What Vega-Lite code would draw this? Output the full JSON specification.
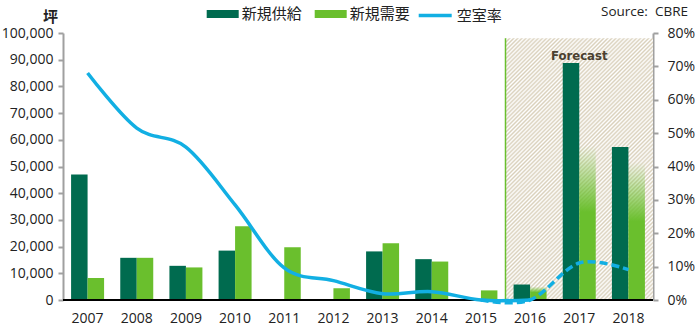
{
"$schema":"https://vega.github.io/schema/vega-lite/v6.json",
"width":590,"height":267,
"autosize":{"type":"none"},
"padding":{"left":63,"top":33,"right":47,"bottom":33},
"background":"white",
"config":{"view":{"stroke":null},"font":"Open Sans","axis":{"grid":false,"labelOverlap":false}},
"data":{"values":[
{"year":"2007","新規供給":47000,"新規需要":8200,"空室率":0.68},
{"year":"2008","新規供給":15800,"新規需要":15800,"空室率":0.515},
{"year":"2009","新規供給":12800,"新規需要":12200,"空室率":0.458},
{"year":"2010","新規供給":18500,"新規需要":27600,"空室率":0.285},
{"year":"2011","新規供給":0,"新規需要":19800,"空室率":0.096},
{"year":"2012","新規供給":0,"新規需要":4400,"空室率":0.058},
{"year":"2013","新規供給":18200,"新規需要":21300,"空室率":0.019},
{"year":"2014","新規供給":15300,"新規需要":14400,"空室率":0.025},
{"year":"2015","新規供給":0,"新規需要":3600,"空室率":0.0},
{"year":"2016","新規供給":5800,"新規需要":5000,"空室率":0.0},
{"year":"2017","新規供給":88800,"新規需要":57800,"空室率":0.111},
{"year":"2018","新規供給":57300,"新規需要":51700,"空室率":0.091}
]},
"layer":[
{"layer":[
{"data":{"values":[{}]},
 "mark":{"type":"rect","fill":{"gradient":"linear","x1":0,"y1":0,"x2":0.669,"y2":1.186,"stops":[
{"offset":0,"color":"#d9d0bb"},{"offset":0.005,"color":"#fff"},{"offset":0.01,"color":"#d9d0bb"},{"offset":0.015,"color":"#fff"},{"offset":0.02,"color":"#d9d0bb"},{"offset":0.025,"color":"#fff"},{"offset":0.03,"color":"#d9d0bb"},{"offset":0.035,"color":"#fff"},{"offset":0.04,"color":"#d9d0bb"},{"offset":0.045,"color":"#fff"},{"offset":0.05,"color":"#d9d0bb"},{"offset":0.055,"color":"#fff"},{"offset":0.06,"color":"#d9d0bb"},{"offset":0.065,"color":"#fff"},{"offset":0.07,"color":"#d9d0bb"},{"offset":0.075,"color":"#fff"},{"offset":0.08,"color":"#d9d0bb"},{"offset":0.085,"color":"#fff"},{"offset":0.09,"color":"#d9d0bb"},{"offset":0.095,"color":"#fff"},
{"offset":0.1,"color":"#d9d0bb"},{"offset":0.105,"color":"#fff"},{"offset":0.11,"color":"#d9d0bb"},{"offset":0.115,"color":"#fff"},{"offset":0.12,"color":"#d9d0bb"},{"offset":0.125,"color":"#fff"},{"offset":0.13,"color":"#d9d0bb"},{"offset":0.135,"color":"#fff"},{"offset":0.14,"color":"#d9d0bb"},{"offset":0.145,"color":"#fff"},{"offset":0.15,"color":"#d9d0bb"},{"offset":0.155,"color":"#fff"},{"offset":0.16,"color":"#d9d0bb"},{"offset":0.165,"color":"#fff"},{"offset":0.17,"color":"#d9d0bb"},{"offset":0.175,"color":"#fff"},{"offset":0.18,"color":"#d9d0bb"},{"offset":0.185,"color":"#fff"},{"offset":0.19,"color":"#d9d0bb"},{"offset":0.195,"color":"#fff"},
{"offset":0.2,"color":"#d9d0bb"},{"offset":0.205,"color":"#fff"},{"offset":0.21,"color":"#d9d0bb"},{"offset":0.215,"color":"#fff"},{"offset":0.22,"color":"#d9d0bb"},{"offset":0.225,"color":"#fff"},{"offset":0.23,"color":"#d9d0bb"},{"offset":0.235,"color":"#fff"},{"offset":0.24,"color":"#d9d0bb"},{"offset":0.245,"color":"#fff"},{"offset":0.25,"color":"#d9d0bb"},{"offset":0.255,"color":"#fff"},{"offset":0.26,"color":"#d9d0bb"},{"offset":0.265,"color":"#fff"},{"offset":0.27,"color":"#d9d0bb"},{"offset":0.275,"color":"#fff"},{"offset":0.28,"color":"#d9d0bb"},{"offset":0.285,"color":"#fff"},{"offset":0.29,"color":"#d9d0bb"},{"offset":0.295,"color":"#fff"},
{"offset":0.3,"color":"#d9d0bb"},{"offset":0.305,"color":"#fff"},{"offset":0.31,"color":"#d9d0bb"},{"offset":0.315,"color":"#fff"},{"offset":0.32,"color":"#d9d0bb"},{"offset":0.325,"color":"#fff"},{"offset":0.33,"color":"#d9d0bb"},{"offset":0.335,"color":"#fff"},{"offset":0.34,"color":"#d9d0bb"},{"offset":0.345,"color":"#fff"},{"offset":0.35,"color":"#d9d0bb"},{"offset":0.355,"color":"#fff"},{"offset":0.36,"color":"#d9d0bb"},{"offset":0.365,"color":"#fff"},{"offset":0.37,"color":"#d9d0bb"},{"offset":0.375,"color":"#fff"},{"offset":0.38,"color":"#d9d0bb"},{"offset":0.385,"color":"#fff"},{"offset":0.39,"color":"#d9d0bb"},{"offset":0.395,"color":"#fff"},
{"offset":0.4,"color":"#d9d0bb"},{"offset":0.405,"color":"#fff"},{"offset":0.41,"color":"#d9d0bb"},{"offset":0.415,"color":"#fff"},{"offset":0.42,"color":"#d9d0bb"},{"offset":0.425,"color":"#fff"},{"offset":0.43,"color":"#d9d0bb"},{"offset":0.435,"color":"#fff"},{"offset":0.44,"color":"#d9d0bb"},{"offset":0.445,"color":"#fff"},{"offset":0.45,"color":"#d9d0bb"},{"offset":0.455,"color":"#fff"},{"offset":0.46,"color":"#d9d0bb"},{"offset":0.465,"color":"#fff"},{"offset":0.47,"color":"#d9d0bb"},{"offset":0.475,"color":"#fff"},{"offset":0.48,"color":"#d9d0bb"},{"offset":0.485,"color":"#fff"},{"offset":0.49,"color":"#d9d0bb"},{"offset":0.495,"color":"#fff"},
{"offset":0.5,"color":"#d9d0bb"},{"offset":0.505,"color":"#fff"},{"offset":0.51,"color":"#d9d0bb"},{"offset":0.515,"color":"#fff"},{"offset":0.52,"color":"#d9d0bb"},{"offset":0.525,"color":"#fff"},{"offset":0.53,"color":"#d9d0bb"},{"offset":0.535,"color":"#fff"},{"offset":0.54,"color":"#d9d0bb"},{"offset":0.545,"color":"#fff"},{"offset":0.55,"color":"#d9d0bb"},{"offset":0.555,"color":"#fff"},{"offset":0.56,"color":"#d9d0bb"},{"offset":0.565,"color":"#fff"},{"offset":0.57,"color":"#d9d0bb"},{"offset":0.575,"color":"#fff"},{"offset":0.58,"color":"#d9d0bb"},{"offset":0.585,"color":"#fff"},{"offset":0.59,"color":"#d9d0bb"},{"offset":0.595,"color":"#fff"},
{"offset":0.6,"color":"#d9d0bb"},{"offset":0.605,"color":"#fff"},{"offset":0.61,"color":"#d9d0bb"},{"offset":0.615,"color":"#fff"},{"offset":0.62,"color":"#d9d0bb"},{"offset":0.625,"color":"#fff"},{"offset":0.63,"color":"#d9d0bb"},{"offset":0.635,"color":"#fff"},{"offset":0.64,"color":"#d9d0bb"},{"offset":0.645,"color":"#fff"},{"offset":0.65,"color":"#d9d0bb"},{"offset":0.655,"color":"#fff"},{"offset":0.66,"color":"#d9d0bb"},{"offset":0.665,"color":"#fff"},{"offset":0.67,"color":"#d9d0bb"},{"offset":0.675,"color":"#fff"},{"offset":0.68,"color":"#d9d0bb"},{"offset":0.685,"color":"#fff"},{"offset":0.69,"color":"#d9d0bb"},{"offset":0.695,"color":"#fff"},
{"offset":0.7,"color":"#d9d0bb"},{"offset":0.705,"color":"#fff"},{"offset":0.71,"color":"#d9d0bb"},{"offset":0.715,"color":"#fff"},{"offset":0.72,"color":"#d9d0bb"},{"offset":0.725,"color":"#fff"},{"offset":0.73,"color":"#d9d0bb"},{"offset":0.735,"color":"#fff"},{"offset":0.74,"color":"#d9d0bb"},{"offset":0.745,"color":"#fff"},{"offset":0.75,"color":"#d9d0bb"},{"offset":0.755,"color":"#fff"},{"offset":0.76,"color":"#d9d0bb"},{"offset":0.765,"color":"#fff"},{"offset":0.77,"color":"#d9d0bb"},{"offset":0.775,"color":"#fff"},{"offset":0.78,"color":"#d9d0bb"},{"offset":0.785,"color":"#fff"},{"offset":0.79,"color":"#d9d0bb"},{"offset":0.795,"color":"#fff"},
{"offset":0.8,"color":"#d9d0bb"},{"offset":0.805,"color":"#fff"},{"offset":0.81,"color":"#d9d0bb"},{"offset":0.815,"color":"#fff"},{"offset":0.82,"color":"#d9d0bb"},{"offset":0.825,"color":"#fff"},{"offset":0.83,"color":"#d9d0bb"},{"offset":0.835,"color":"#fff"},{"offset":0.84,"color":"#d9d0bb"},{"offset":0.845,"color":"#fff"},{"offset":0.85,"color":"#d9d0bb"},{"offset":0.855,"color":"#fff"},{"offset":0.86,"color":"#d9d0bb"},{"offset":0.865,"color":"#fff"},{"offset":0.87,"color":"#d9d0bb"},{"offset":0.875,"color":"#fff"},{"offset":0.88,"color":"#d9d0bb"},{"offset":0.885,"color":"#fff"},{"offset":0.89,"color":"#d9d0bb"},{"offset":0.895,"color":"#fff"},
{"offset":0.9,"color":"#d9d0bb"},{"offset":0.905,"color":"#fff"},{"offset":0.91,"color":"#d9d0bb"},{"offset":0.915,"color":"#fff"},{"offset":0.92,"color":"#d9d0bb"},{"offset":0.925,"color":"#fff"},{"offset":0.93,"color":"#d9d0bb"},{"offset":0.935,"color":"#fff"},{"offset":0.94,"color":"#d9d0bb"},{"offset":0.945,"color":"#fff"},{"offset":0.95,"color":"#d9d0bb"},{"offset":0.955,"color":"#fff"},{"offset":0.96,"color":"#d9d0bb"},{"offset":0.965,"color":"#fff"},{"offset":0.97,"color":"#d9d0bb"},{"offset":0.975,"color":"#fff"},{"offset":0.98,"color":"#d9d0bb"},{"offset":0.985,"color":"#fff"},{"offset":0.99,"color":"#d9d0bb"},{"offset":0.995,"color":"#fff"},{"offset":1,"color":"#d9d0bb"}
]}},
 "encoding":{
  "x":{"datum":"2016","type":"ordinal","bandPosition":0,"scale":{"paddingInner":0,"paddingOuter":0},"axis":{"title":null,"labelAngle":0,"ticks":false,"domain":false,"labelFontSize":14,"labelPadding":11,"labelColor":"#222"}},
  "x2":{"datum":"2018","bandPosition":1},
  "y":{"datum":0,"type":"quantitative","scale":{"domain":[0,100000]},"axis":{"title":"坪","titleAngle":0,"titleAlign":"center","titleBaseline":"middle","titleX":-13,"titleY":-17,"titleFont":"Noto Sans CJK JP","titleFontSize":15,"titleFontWeight":"bold","titleColor":"#222","values":[0,10000,20000,30000,40000,50000,60000,70000,80000,90000,100000],"format":",.0f","labelOverlap":false,"domainColor":"#a0a0a0","domainWidth":2,"tickColor":"#a0a0a0","tickWidth":2,"tickSize":5,"labelFontSize":14,"labelPadding":5,"labelColor":"#222"}},
  "y2":{"datum":98000}}},
{"data":{"values":[{}]},
 "mark":{"type":"rule","color":"#6abf2d","strokeWidth":1.5},
 "encoding":{"x":{"datum":"2016","type":"ordinal","bandPosition":0},"y":{"datum":0,"type":"quantitative","axis":{"values":[0,10000,20000,30000,40000,50000,60000,70000,80000,90000,100000]}},"y2":{"datum":98000}}},
{"transform":[{"fold":["新規供給","新規需要"],"as":["series","value"]},{"filter":"datum.series === '新規供給' || datum.year < '2016'"}],
 "mark":{"type":"bar"},
 "encoding":{
  "x":{"field":"year","type":"ordinal"},
  "xOffset":{"field":"series","type":"nominal","scale":{"domain":["新規供給","新規需要"],"paddingOuter":0.49,"paddingInner":0}},
  "y":{"field":"value","type":"quantitative","axis":{"values":[0,10000,20000,30000,40000,50000,60000,70000,80000,90000,100000]}},
  "color":{"field":"series","type":"nominal","scale":{"domain":["新規供給","新規需要"],"range":["#006b4f","#6abf2d"]},"legend":{"orient":"none","legendX":143.7,"legendY":-35,"direction":"horizontal","title":null,"symbolType":"M-1,-0.25H1V0.25H-1Z","symbolSize":1024,"symbolStrokeWidth":0,"symbolOpacity":1,"labelFont":"Noto Sans CJK JP","labelFontSize":15,"labelColor":"#222","labelOffset":3,"columnPadding":12,"padding":0}}
 }},
{"transform":[{"fold":["新規需要"],"as":["series","value"]},{"filter":"datum.year >= '2016'"}],
 "mark":{"type":"bar","fill":{"gradient":"linear","x1":0,"y1":1,"x2":0,"y2":0,"stops":[{"offset":0,"color":"#6abf2d"},{"offset":0.57,"color":"#6abf2d"},{"offset":1,"color":"rgba(106,191,45,0)"}]}},
 "encoding":{
  "x":{"field":"year","type":"ordinal"},
  "xOffset":{"field":"series","type":"nominal"},
  "y":{"field":"value","type":"quantitative","axis":{"values":[0,10000,20000,30000,40000,50000,60000,70000,80000,90000,100000]}}
 }},
{"data":{"values":[{}]},
 "mark":{"type":"rule","color":"#000","strokeWidth":2},
 "encoding":{"y":{"datum":0,"type":"quantitative","axis":{"values":[0,10000,20000,30000,40000,50000,60000,70000,80000,90000,100000]}}}},
{"data":{"values":[{}]},
 "mark":{"type":"text","text":"Forecast","font":"DejaVu Sans Condensed","fontWeight":"bold","fontSize":13,"color":"#4a4030","baseline":"alphabetic","align":"center","dy":-2},
 "encoding":{"x":{"datum":"2017","type":"ordinal"},"y":{"datum":89000,"type":"quantitative","axis":{"values":[0,10000,20000,30000,40000,50000,60000,70000,80000,90000,100000]}}}},
{"data":{"values":[{}]},
 "mark":{"type":"text","text":"Source:\u00a0 CBRE","font":"Open Sans","fontSize":13.5,"color":"#222","baseline":"middle","align":"right","dx":35},
 "encoding":{"x":{"datum":"2018","type":"ordinal","bandPosition":1},"y":{"datum":107900,"type":"quantitative","axis":{"values":[0,10000,20000,30000,40000,50000,60000,70000,80000,90000,100000]}}}}
]},
{"layer":[
{"transform":[{"filter":"datum.year <= '2016'"}],
 "mark":{"type":"line","interpolate":"cardinal","strokeWidth":3.5,"strokeCap":"butt"},
 "encoding":{
  "x":{"field":"year","type":"ordinal"},
  "y":{"field":"空室率","type":"quantitative","scale":{"domain":[0,0.8]},"axis":{"orient":"right","title":null,"values":[0,0.1,0.2,0.3,0.4,0.5,0.6,0.7,0.8],"format":".0%","labelOverlap":false,"domainColor":"#a0a0a0","domainWidth":2,"tickColor":"#a0a0a0","tickWidth":2,"tickSize":5,"labelFontSize":14,"labelPadding":9,"labelColor":"#222"}},
  "stroke":{"datum":"空室率","type":"nominal","scale":{"range":["#12afe3"]},"legend":{"orient":"none","legendX":353.7,"legendY":-36,"title":null,"symbolType":"stroke","symbolSize":1089,"symbolStrokeWidth":3.5,"labelFont":"Noto Sans CJK JP","labelFontSize":15,"labelColor":"#222","labelOffset":3,"padding":0}}
 }},
{"transform":[{"filter":"datum.year >= '2015'"}],
 "mark":{"type":"line","interpolate":"cardinal","strokeWidth":3.5,"strokeDash":[8,4],"strokeCap":"butt"},
 "encoding":{
  "x":{"field":"year","type":"ordinal"},
  "y":{"field":"空室率","type":"quantitative","axis":{"orient":"right","values":[0,0.1,0.2,0.3,0.4,0.5,0.6,0.7,0.8]}},
  "stroke":{"datum":"空室率","type":"nominal"}
 }}
]}
],
"resolve":{"scale":{"y":"independent"}}
}
